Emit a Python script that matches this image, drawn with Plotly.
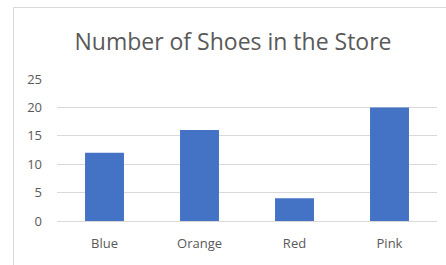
import plotly.graph_objects as go

categories = ["Blue", "Orange", "Red", "Pink"]
values = [12, 16, 4, 20]
y_ticks = [0, 5, 10, 15, 20, 25]
title_text = "Number of Shoes in the Store"

fig = go.Figure(go.Bar(x=categories, y=values, marker=dict(color="#4472C4", line=dict(width=0)), width=0.41))

L, R, T, B = 57, 9, 79, 44
W, H = 446, 265
pw, ph = W - L - R, H - T - B

def px_to_paper_x(px):
    return (px - L) / pw

def px_to_paper_y(py):
    return (H - B - py) / ph

# left and top edges of the chart frame
fig.add_shape(type="line", xref="paper", yref="paper",
              x0=px_to_paper_x(13.5), x1=px_to_paper_x(13.5),
              y0=px_to_paper_y(266), y1=px_to_paper_y(7.5),
              line=dict(color="#d9d9d9", width=1), layer="below")
fig.add_shape(type="line", xref="paper", yref="paper",
              x0=px_to_paper_x(13.5), x1=px_to_paper_x(447),
              y0=px_to_paper_y(7.5), y1=px_to_paper_y(7.5),
              line=dict(color="#d9d9d9", width=1), layer="below")

fig.update_layout(
    width=W, height=H,
    margin=dict(l=L, r=R, t=T, b=B),
    paper_bgcolor="white", plot_bgcolor="white",
    font=dict(family="Open Sans, sans-serif", color="#595959", size=13),
    title=dict(text=title_text, x=233 / W, xanchor="center", xref="container",
               y=1 - 42 / H, yanchor="middle", yref="container",
               font=dict(size=23, color="#595959")),
    showlegend=False,
    bargap=0.6,
)
fig.update_xaxes(showgrid=False, showline=True, linecolor="#d9d9d9", linewidth=1,
                 ticks="", tickfont=dict(size=13), ticklabelstandoff=10)
fig.update_yaxes(range=[0, 25], tickvals=y_ticks, showgrid=True, gridcolor="#d9d9d9",
                 gridwidth=1, zeroline=False, showline=False, ticks="",
                 tickfont=dict(size=13), ticklabelstandoff=14)

fig.write_html("out.html", config={"displayModeBar": False},
               post_script="document.body.style.margin='0';document.body.style.overflow='hidden';document.documentElement.style.overflow='hidden';")
